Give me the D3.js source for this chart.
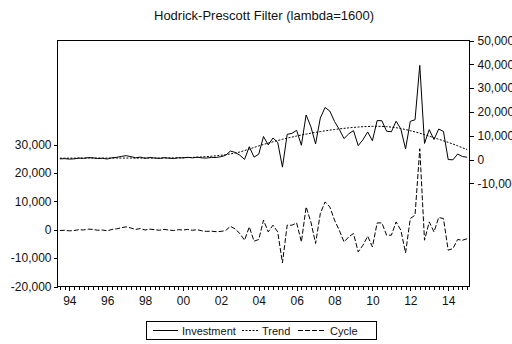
<!DOCTYPE html>
<html><head><meta charset="utf-8">
<script src="https://cdn.jsdelivr.net/npm/d3@7"></script>
<style>
body{margin:0;background:#fff}
svg{display:block;font-family:Arial,"Liberation Sans",sans-serif}
</style>
</head><body>
<svg id="chart" width="512" height="344"></svg>
<script>
// ---------------- data (quarterly, 1993Q3 .. 2015Q1) ----------------
const title = "Hodrick-Prescott Filter (lambda=1600)";
const seriesNames = ["Investment", "Trend", "Cycle"];

const investment = [
  260, 365, 170, 275, 580, 485, 790, 695, 400, 500,
  205, 705, 910, 1310, 1610, 1210, 710, 1010, 510, 815,
  620, 430, 745, 565, 390, 720, 660, 910, 680, 970,
  680, 610, 870, 860, 1180, 1740, 3540, 3000, 1810, 50,
  5390, 1000, 2250, 9670, 6130, 9030, 7210, -3210, 10540, 11000,
  12250, 5980, 18710, 13810, 6550, 17440, 21840, 20370, 15960, 12680,
  8790, 10770, 12150, 5830, 8320, 11590, 7880, 16350, 16290, 11880,
  11660, 16100, 12820, 4430, 16040, 16700, 39550, 6750, 12550, 8380,
  12800, 11790, -20, -120, 2300, 1250, 950
];
const trend = [
  560, 565, 570, 575, 580, 585, 590, 595, 600, 600,
  605, 605, 610, 610, 610, 610, 610, 610, 610, 615,
  620, 630, 645, 665, 690, 720, 760, 810, 880, 970,
  1080, 1210, 1370, 1560, 1780, 2040, 2340, 2700, 3150, 3750,
  4400, 5050, 5700, 6320, 6900, 7450, 7980, 8480, 8960, 9420,
  9860, 10280, 10680, 11060, 11410, 11740, 12050, 12340, 12610, 12860,
  13090, 13300, 13490, 13650, 13780, 13880, 13940, 13960, 13900, 13820,
  13600, 13350, 13000, 12600, 12100, 11600, 11050, 10450, 9800, 9150,
  8500, 7850, 7200, 6500, 5750, 4950, 4150
];
const cycle = [
  -300, -200, -400, -300, 0, -100, 200, 100, -200, -100,
  -400, 100, 300, 700, 1000, 600, 100, 400, -100, 200,
  0, -200, 100, -100, -300, 0, -100, 100, -200, 0,
  -400, -600, -500, -700, -600, -300, 1200, 300, -1340, -3700,
  990, -4050, -3450, 3350, -770, 1580, -770, -11690, 1580, 1580,
  2390, -4300, 8030, 2750, -4860, 5700, 9790, 8030, 3350, -180,
  -4300, -2530, -1340, -7820, -5460, -2290, -6060, 2390, 2390, -1940,
  -1940, 2750, -180, -8170, 3940, 5100, 28500, -3700, 2750, -770,
  4300, 3940, -7220, -6620, -3450, -3700, -3200
];

const firstYear = 1993, firstQuarter = 3;
const labelYears = [1994, 1996, 1998, 2000, 2002, 2004, 2006, 2008, 2010, 2012, 2014];
const leftTicks = [-20000, -10000, 0, 10000, 20000, 30000];
const rightTicks = [-10000, 0, 10000, 20000, 30000, 40000, 50000];

// ---------------- layout ----------------
const svg = d3.select("#chart");
const W = 512, H = 344;
const plot = {left: 57.5, right: 469.5, top: 40.5, bottom: 286.5};
svg.append("rect").attr("width", W).attr("height", H).attr("fill", "#fff");

const n = investment.length;
const x = d3.scaleLinear().domain([-0.5, n - 0.5]).range([plot.left, plot.right]);
const yL = d3.scaleLinear().domain([-20000, 66620]).range([plot.bottom, plot.top]); // cycle
const yR = d3.scaleLinear().domain([-53360, 50000]).range([plot.bottom, plot.top]); // investment, trend

const fmt = v => d3.format(",")(v).replace("\u2212", "-");
const idxOfYear = y => (y - firstYear) * 4 + (1 - firstQuarter);

// title
svg.append("text").attr("x", 264).attr("y", 20).attr("text-anchor", "middle")
  .attr("font-size", 13).attr("fill", "#111").text(title);

// clip
svg.append("clipPath").attr("id", "clip").append("rect")
  .attr("x", plot.left).attr("y", plot.top)
  .attr("width", plot.right - plot.left).attr("height", plot.bottom - plot.top);

// axes
const axL = svg.append("g").attr("transform", `translate(${plot.left},0)`)
  .call(d3.axisLeft(yL).tickValues(leftTicks).tickSize(4).tickPadding(2).tickFormat(fmt));
const axR = svg.append("g").attr("transform", `translate(${plot.right},0)`)
  .call(d3.axisRight(yR).tickValues(rightTicks).tickSize(4).tickPadding(4).tickFormat(fmt));
const axBminor = svg.append("g").attr("transform", `translate(0,${plot.bottom})`)
  .call(d3.axisBottom(x).tickValues(d3.range(n)).tickSize(3).tickFormat(""));
const axB = svg.append("g").attr("transform", `translate(0,${plot.bottom})`)
  .call(d3.axisBottom(x).tickValues(labelYears.map(idxOfYear)).tickSize(4).tickPadding(6)
    .tickFormat((d, i) => String(labelYears[i]).slice(2)));
[axL, axR, axBminor, axB].forEach(g => {
  g.select(".domain").remove();
  g.selectAll("line").attr("stroke", "#000").attr("shape-rendering", "crispEdges");
  g.selectAll("text").attr("font-size", 12).attr("fill", "#111")
    .attr("font-family", "Arial, 'Liberation Sans', sans-serif");
});

// frame
svg.append("rect").attr("x", plot.left).attr("y", plot.top)
  .attr("width", plot.right - plot.left).attr("height", plot.bottom - plot.top)
  .attr("fill", "none").attr("stroke", "#000").attr("shape-rendering", "crispEdges");

// lines
const lineR = d3.line().x((d, i) => x(i)).y(d => yR(d));
const lineL = d3.line().x((d, i) => x(i)).y(d => yL(d));
const styles = [
  {data: investment, gen: lineR, dash: null},
  {data: trend, gen: lineR, dash: "2,1.5"},
  {data: cycle, gen: lineL, dash: "5,2"}
];
const gLines = svg.append("g").attr("clip-path", "url(#clip)");
styles.forEach(s => {
  gLines.append("path").attr("d", s.gen(s.data)).attr("fill", "none")
    .attr("stroke", "#000").attr("stroke-width", 1)
    .attr("stroke-dasharray", s.dash);
});

// legend
const leg = svg.append("g");
leg.append("rect").attr("x", 146.5).attr("y", 321.5).attr("width", 230).attr("height", 18)
  .attr("fill", "#fff").attr("stroke", "#000").attr("shape-rendering", "crispEdges");
const legItems = [
  {x0: 153, x1: 178, tx: 182, dash: null},
  {x0: 242, x1: 259, tx: 262, dash: "2,1.5"},
  {x0: 298, x1: 326, tx: 330, dash: "5,2"}
];
legItems.forEach((it, i) => {
  leg.append("line").attr("x1", it.x0).attr("x2", it.x1).attr("y1", 330.5).attr("y2", 330.5)
    .attr("stroke", "#000").attr("stroke-dasharray", it.dash);
  leg.append("text").attr("x", it.tx).attr("y", 334.5).attr("font-size", 11)
    .attr("fill", "#111").text(seriesNames[i]);
});
</script>
</body></html>
